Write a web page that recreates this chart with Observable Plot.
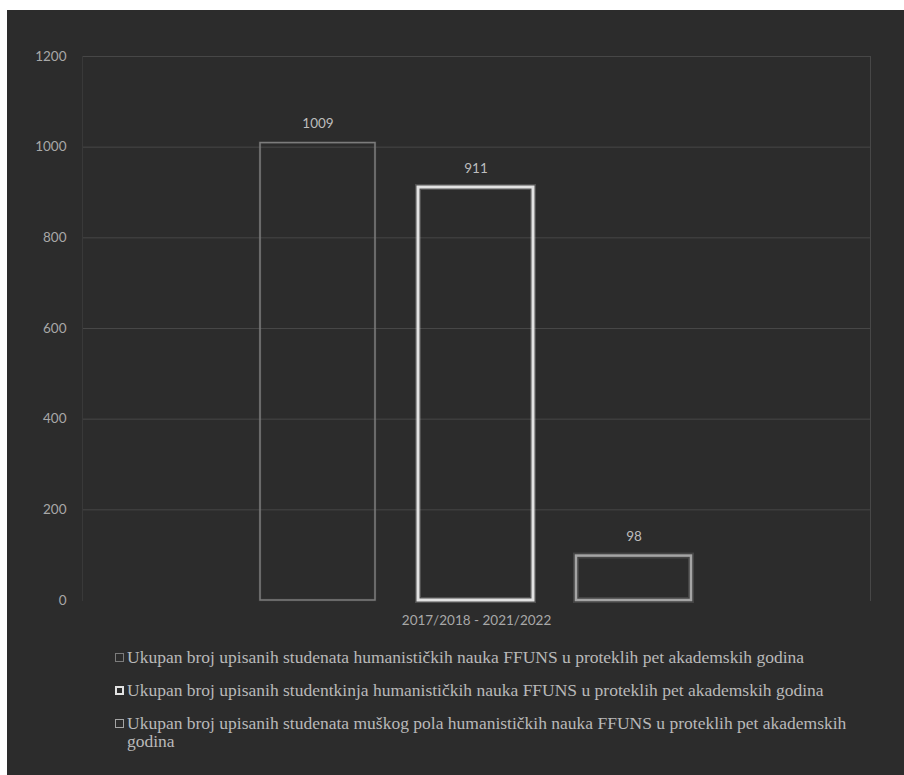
<!DOCTYPE html>
<html>
<head>
<meta charset="utf-8">
<script src="https://cdn.jsdelivr.net/npm/d3@7"></script>
<script src="https://cdn.jsdelivr.net/npm/@observablehq/plot@0.6"></script>
<style>
  html, body { margin: 0; padding: 0; background: #ffffff; }
  #panel {
    position: absolute; left: 7px; top: 10px; width: 897px; height: 765px;
    background: #2c2c2c; overflow: hidden;
  }
  #chart svg { display: block; }
  #legend {
    position: absolute; left: 108px; top: 638px;
    font-family: "Liberation Serif", "Times New Roman", serif;
    font-size: 17.5px; color: #b9b9b9;
  }
  .item { display: flex; align-items: flex-start; margin-bottom: 15px; line-height: 18px; }
  .sw { flex: none; width: 9px; height: 9px; margin-top: 5px; margin-right: 3px; box-sizing: border-box; }
  .txt { width: 735px; }
</style>
</head>
<body>
<div id="panel">
  <div id="chart"></div>
  <div id="legend"></div>
</div>
<script>
const category = "2017/2018 - 2021/2022";
const series = [
  "Ukupan broj upisanih studenata humanističkih nauka FFUNS u proteklih pet akademskih godina",
  "Ukupan broj upisanih studentkinja humanističkih nauka FFUNS u proteklih pet akademskih godina",
  "Ukupan broj upisanih studenata muškog pola humanističkih nauka FFUNS u proteklih pet akademskih godina"
];
const values = [1009, 911, 98];
const yTicks = [0, 200, 400, 600, 800, 1000, 1200];
const gridTicks = [200, 400, 600, 800, 1000, 1200];

// visual styles (kept separate from data)
const strokeColors = ["#7c7c7c", "#e2e2e2", "#a4a4a4"];
const strokeWidths = [1.5, 3, 2.5];
const glowWidths = [3, 6, 6];
const glowOpacity = [0.12, 0.2, 0.2];

const data = series.map((s, i) => ({cat: category, series: s, value: values[i], i}));

const chart = Plot.plot({
  width: 897,
  height: 625,
  marginTop: 46,
  marginLeft: 75,
  marginRight: 34,
  marginBottom: 35,
  style: {background: "transparent", color: "#a8a8a8", fontFamily: "Lato, 'Open Sans', sans-serif", fontSize: "13.5px"},
  fx: {domain: [category], padding: 0, label: null, axis: "bottom", tickSize: 0, tickPadding: 15},
  x: {domain: series, paddingInner: 0.27, paddingOuter: 1.12, axis: null},
  y: {domain: [0, 1200], ticks: yTicks, tickFormat: d => String(d), label: null, tickSize: 0, tickPadding: 16},
  marks: [
    Plot.gridY(gridTicks, {stroke: "#474747", strokeOpacity: 1}),
    Plot.frame({anchor: "right", stroke: "#474747"}),
    Plot.frame({anchor: "left", stroke: "#393939"}),
    Plot.barY(data, {fx: "cat", x: "series", y: "value", fill: "none",
      stroke: d => strokeColors[d.i], strokeWidth: d => glowWidths[d.i], strokeOpacity: d => glowOpacity[d.i]}),
    Plot.barY(data, {fx: "cat", x: "series", y: "value", fill: "none",
      stroke: d => strokeColors[d.i], strokeWidth: d => strokeWidths[d.i]}),
    Plot.text(data, {fx: "cat", x: "series", y: "value", text: d => String(d.value), dy: -19, fill: "#bdbdbd", fontSize: 13.5})
  ]
});
document.getElementById("chart").appendChild(chart);

const legend = document.getElementById("legend");
series.forEach((s, i) => {
  const item = document.createElement("div");
  item.className = "item";
  const sw = document.createElement("span");
  sw.className = "sw";
  sw.style.border = `${[1, 2, 1.5][i]}px solid ${strokeColors[i]}`;
  const t = document.createElement("span");
  t.className = "txt";
  t.textContent = s;
  item.appendChild(sw);
  item.appendChild(t);
  legend.appendChild(item);
});
</script>
</body>
</html>
